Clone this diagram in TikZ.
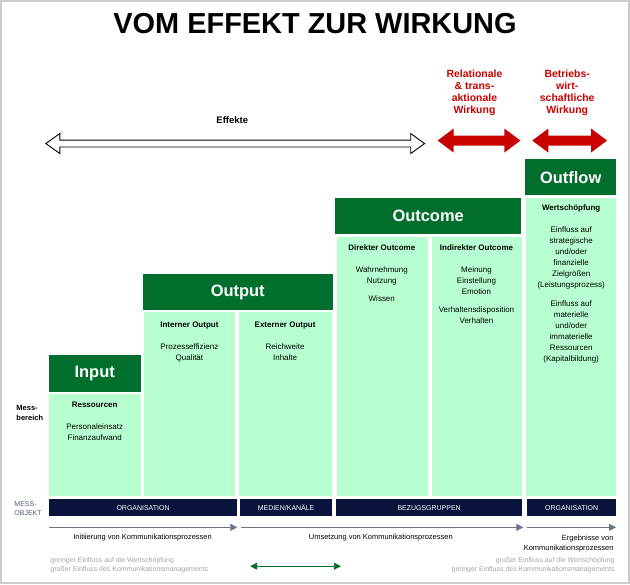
\documentclass[tikz,border=0pt]{standalone}
\usepackage{fontspec}
\setmainfont{Liberation Sans}
\usetikzlibrary{arrows.meta}
\definecolor{dg}{RGB}{0,110,45}
\definecolor{lg}{RGB}{183,255,208}
\definecolor{navy}{RGB}{10,20,60}
\definecolor{rd}{RGB}{200,0,0}
\definecolor{gt}{RGB}{165,165,165}
\newcommand\dblarr[7]{% x1 x2 y halfshaft halfhead headlen style
 \path[#7] (#1,#3) -- (#1+#6,#3-#5) -- (#1+#6,#3-#4) -- (#2-#6,#3-#4) -- (#2-#6,#3-#5) -- (#2,#3) -- (#2-#6,#3+#5) -- (#2-#6,#3+#4) -- (#1+#6,#3+#4) -- (#1+#6,#3+#5) -- cycle;}
\begin{document}
\begin{tikzpicture}[x=1pt,y=-1pt,
  hdr/.style={fill=dg,text=white,font=\bfseries\fontsize{16.5}{16}\selectfont,inner sep=0},
  cell/.style={fill=lg,draw=none},
  bar/.style={fill=navy,text=white,font=\fontsize{7}{7}\selectfont,inner sep=0},
  ct/.style={font=\fontsize{8}{11}\selectfont,align=center,anchor=north},
  cb/.style={font=\bfseries\fontsize{8}{9}\selectfont,anchor=north},
  red/.style={text=rd,font=\bfseries\fontsize{10.5}{12}\selectfont,align=center},
  proc/.style={draw=navy!60,line width=0.8pt,-{Triangle[length=7pt,width=7pt]}},
  gtxt/.style={text=gt,font=\fontsize{7}{10}\selectfont,align=left}]
\path[use as bounding box,fill=white,draw=gray!40,line width=2pt] (0,0) rectangle (630,584);
\node[font=\bfseries\fontsize{29}{29}\selectfont] (title) at (315,23) {VOM EFFEKT ZUR WIRKUNG};
% arrows
\dblarr{45}{425}{143}{3.5}{10}{14}{draw=black,fill=white,line width=0.9pt}
\node[font=\bfseries\fontsize{9.5}{9}\selectfont] (efft) at (232,119) {Effekte};
\node[red] (r1) at (475,92) {Relationale\\\& trans-\\aktionale\\Wirkung};
\node[red] (r2) at (568,92) {Betriebs-\\wirt-\\schaftliche\\Wirkung};
\dblarr{438}{521}{140}{5}{12}{16}{fill=rd}
\dblarr{533}{608}{140}{5}{12}{16}{fill=rd}
% columns
\fill[cell] (48,394) rectangle (140,497);
\fill[cell] (143,312) rectangle (235,497);
\fill[cell] (239,312) rectangle (332,497);
\fill[cell] (337,237) rectangle (428,497);
\fill[cell] (432,237) rectangle (523,497);
\fill[cell] (527,198) rectangle (617,497);
% headers
\node[hdr,minimum width=92pt,minimum height=37pt] (hin) at (94,374) {Input};
\node[hdr,minimum width=191pt,minimum height=36pt] (hout) at (237.5,292) {Output};
\node[hdr,minimum width=187pt,minimum height=36pt] (hoc) at (428.5,216) {Outcome};
\node[hdr,minimum width=91pt,minimum height=36pt] (hof) at (571.5,177) {Outflow};
% cell texts
\node[cb] (t1) at (94,399) {Ressourcen};
\node[ct] (t1b) at (94,421) {Personaleinsatz\\Finanzaufwand};
\node[cb] (t2) at (189,318) {Interner Output};
\node[ct] (t2b) at (189,340) {Prozesseffizienz\\Qualität};
\node[cb] (t3) at (285,318) {Externer Output};
\node[ct] (t3b) at (285,340) {Reichweite\\Inhalte};
\node[cb] (t4) at (382,241) {Direkter Outcome};
\node[ct] (t4b) at (382,263) {Wahrnehmung\\Nutzung\\[7pt]Wissen};
\node[cb] (t5) at (477,241) {Indirekter Outcome};
\node[ct] (t5b) at (477,263) {Meinung\\Einstellung\\Emotion\\[7pt]Verhaltensdisposition\\Verhalten};
\node[cb] (t6) at (572,201) {Wertschöpfung};
\node[ct] (t6b) at (572,223) {Einfluss auf\\strategische\\und/oder\\finanzielle\\Zielgrößen\\(Leistungsprozess)};
\node[ct] (t6c) at (572,297) {Einfluss auf\\materielle\\und/oder\\immaterielle\\Ressourcen\\(Kapitalbildung)};
\node[font=\bfseries\fontsize{7.5}{10}\selectfont,align=left,anchor=west] (mb) at (12,413) {Mess-\\bereich};
\node[font=\fontsize{7}{9}\selectfont,align=left,anchor=west,text=navy!70] (mo) at (10,509) {MESS-\\OBJEKT};
% bars
\node[bar,minimum width=189pt,minimum height=17pt] (b1) at (142.5,508.5) {ORGANISATION};
\node[bar,minimum width=92pt,minimum height=17pt] (b2) at (286,508.5) {MEDIEN/KANÄLE};
\node[bar,minimum width=187pt,minimum height=17pt] (b3) at (429.5,508.5) {BEZUGSGRUPPEN};
\node[bar,minimum width=89pt,minimum height=17pt] (b4) at (572.5,508.5) {ORGANISATION};
% process arrows
\coordinate (p1a) at (48,528); \coordinate (p1b) at (237,528);
\coordinate (p2a) at (241,528); \coordinate (p2b) at (524,528);
\coordinate (p3a) at (528,528); \coordinate (p3b) at (617,528);
\draw[proc] (p1a) -- (p1b);
\draw[proc] (p2a) -- (p2b);
\draw[proc] (p3a) -- (p3b);
\node[font=\fontsize{7.5}{9}\selectfont] (pt1) at (142,538) {Initiierung von Kommunikationsprozessen};
\node[font=\fontsize{7.5}{9}\selectfont] (pt2) at (381,538) {Umsetzung von Kommunikationsprozessen};
\node[font=\fontsize{7.5}{10}\selectfont,align=right,anchor=north east] (pt3) at (618,532) {Ergebnisse von\\Kommunikationsprozessen};
\node[gtxt,anchor=west] (g1) at (46,566) {geringer Einfluss auf die Wertschöpfung\\großer Einfluss des Kommunikationsmanagements};
\node[gtxt,align=right,anchor=east] (g2) at (619,566) {großer Einfluss auf die Wertschöpfung\\geringer Einfluss des Kommunikationsmanagements};
\coordinate (ga) at (250,567); \coordinate (gb) at (341,567);
\draw[dg,line width=0.8pt,{Triangle[length=7pt,width=7pt]}-{Triangle[length=7pt,width=7pt]}] (ga) -- (gb);
\end{tikzpicture}
\end{document}
